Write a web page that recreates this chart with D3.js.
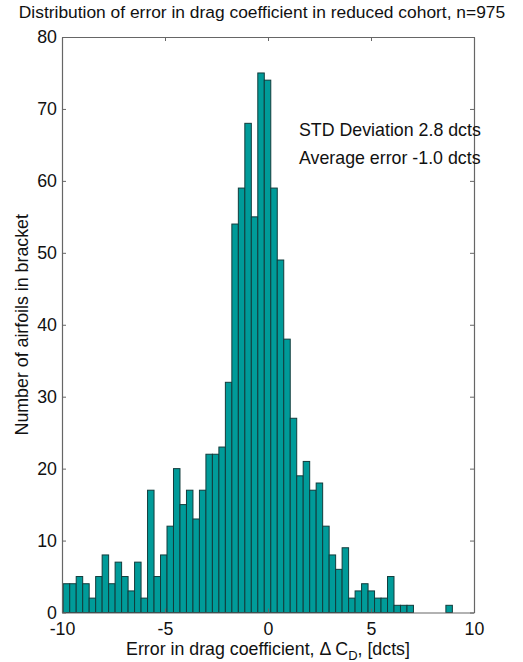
<!DOCTYPE html>
<html>
<head>
<meta charset="utf-8">
<script src="https://cdn.jsdelivr.net/npm/d3@7"></script>
<style>
  html, body { margin: 0; padding: 0; background: #fff; }
  svg { display: block; font-family: "Liberation Sans", Arial, sans-serif; }
</style>
</head>
<body>
<svg id="chart" width="523" height="662"></svg>
<script>
// Histogram of drag-coefficient error (dcts), 60 equal-width bins
const binStart = -9.94;
const binEnd = 8.95;
const counts = [
  4, 4, 5, 4, 2, 5, 8, 4, 7, 5,
  3, 7, 2, 17, 5, 8, 12, 20, 15, 17,
  13, 17, 22, 22, 23, 32, 54, 59, 68, 55,
  75, 74, 59, 49, 38, 27, 19, 21, 17, 18,
  12, 8, 6, 9, 2, 3, 4, 3, 2, 2,
  5, 1, 1, 1, 0, 0, 0, 0, 0, 1
];
const xTicks = [-10, -5, 0, 5, 10];
const yTicks = [0, 10, 20, 30, 40, 50, 60, 70, 80];
const titleText = "Distribution of error in drag coefficient in reduced cohort, n=975";
const notes = ["STD Deviation 2.8 dcts", "Average error -1.0 dcts"];
const yLabel = "Number of airfoils in bracket";

const svg = d3.select("#chart");
const m = { left: 62, right: 474, top: 37, bottom: 612.5 };
const fontSize = "17.8px";

const x = d3.scaleLinear().domain([-10, 10]).range([m.left, m.right]);
const y = d3.scaleLinear().domain([0, 80]).range([m.bottom, m.top]);

const binW = (binEnd - binStart) / counts.length;
const bins = counts.map((c, i) => ({ x0: binStart + i * binW, x1: binStart + (i + 1) * binW, n: c }));

// bars
svg.append("g")
  .selectAll("rect")
  .data(bins.filter(d => d.n > 0))
  .join("rect")
  .attr("x", d => x(d.x0))
  .attr("y", d => y(d.n))
  .attr("width", d => x(d.x1) - x(d.x0))
  .attr("height", d => y(0) - y(d.n))
  .attr("fill", "#009b99")
  .attr("stroke", "#123c3c")
  .attr("stroke-width", 1);

// axes box with inward ticks on all four sides
const axisColor = "#666";
const tickLen = 4;
const fmt = d => String(d);
const bottomAxis = d3.axisBottom(x).tickValues(xTicks).tickSizeInner(-tickLen).tickSizeOuter(0).tickPadding(10).tickFormat(fmt);
const topAxis = d3.axisTop(x).tickValues(xTicks).tickSizeInner(-tickLen).tickSizeOuter(0).tickFormat("");
const leftAxis = d3.axisLeft(y).tickValues(yTicks).tickSizeInner(-tickLen).tickSizeOuter(0).tickPadding(5).tickFormat(fmt);
const rightAxis = d3.axisRight(y).tickValues(yTicks).tickSizeInner(-tickLen).tickSizeOuter(0).tickFormat("");

function styleAxis(g) {
  g.selectAll("path").attr("stroke", axisColor).attr("stroke-width", 1.2);
  g.selectAll("line").attr("stroke", axisColor);
  g.selectAll("text").attr("fill", "#111").style("font-size", fontSize).style("font-family", "'Liberation Sans', Arial, sans-serif");
}

svg.append("g").attr("transform", `translate(0,${m.bottom})`).call(bottomAxis).call(styleAxis);
svg.append("g").attr("transform", `translate(0,${m.top})`).call(topAxis).call(styleAxis);
svg.append("g").attr("transform", `translate(${m.left},0)`).call(leftAxis).call(styleAxis);
svg.append("g").attr("transform", `translate(${m.right},0)`).call(rightAxis).call(styleAxis);

// title
svg.append("text")
  .attr("x", 262)
  .attr("y", 18)
  .attr("text-anchor", "middle")
  .style("font-size", "17.4px")
  .attr("fill", "#111")
  .text(titleText);

// annotations
svg.selectAll("text.note")
  .data(notes)
  .join("text")
  .attr("class", "note")
  .attr("x", 299)
  .attr("y", (d, i) => 136 + i * 28)
  .style("font-size", fontSize)
  .attr("fill", "#111")
  .text(d => d);

// y-axis label
svg.append("text")
  .attr("transform", `translate(28,${(m.top + m.bottom) / 2}) rotate(-90)`)
  .attr("text-anchor", "middle")
  .style("font-size", fontSize)
  .attr("fill", "#111")
  .text(yLabel);

// x-axis label with subscript D
const xl = svg.append("text")
  .attr("x", (m.left + m.right) / 2)
  .attr("y", 655)
  .attr("text-anchor", "middle")
  .style("font-size", fontSize)
  .attr("fill", "#111");
xl.append("tspan").text("Error in drag coefficient, \u0394 C");
xl.append("tspan").attr("dy", 5).style("font-size", "13px").text("D");
xl.append("tspan").attr("dy", -5).text(", [dcts]");
</script>
</body>
</html>
